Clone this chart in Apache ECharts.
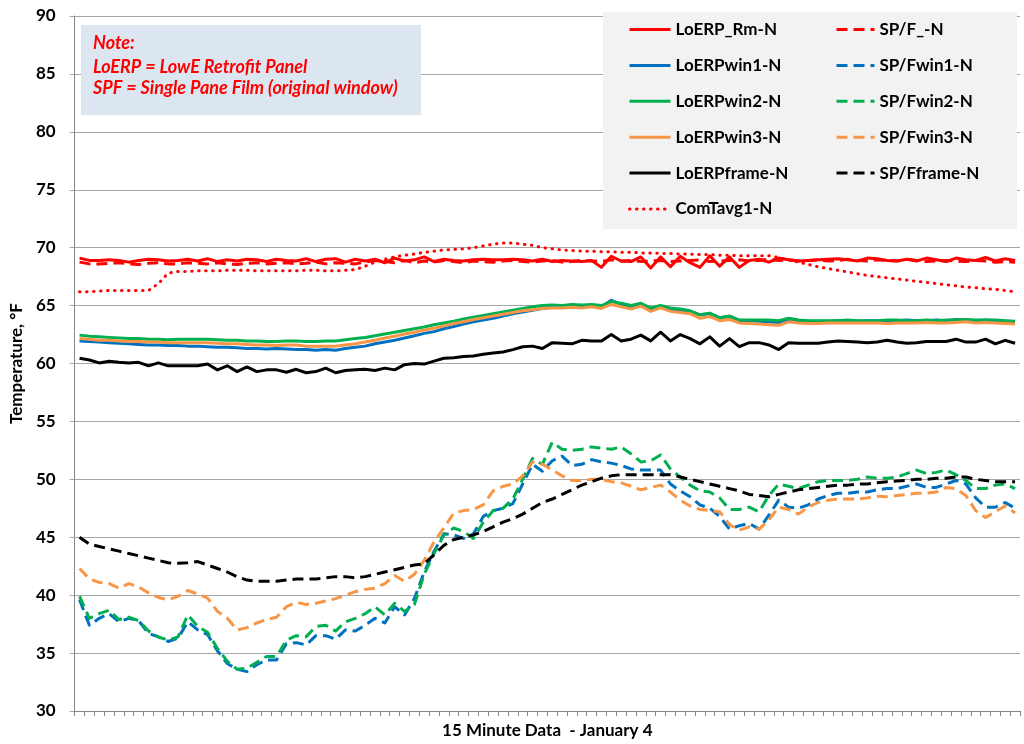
<!DOCTYPE html>
<html>
<head>
<meta charset="utf-8">
<script src="https://cdn.jsdelivr.net/npm/echarts@6/dist/echarts.min.js"></script>
<style>
  html, body { margin: 0; padding: 0; background: #ffffff; }
  #chart { width: 1024px; height: 744px; }
</style>
</head>
<body>
<div id="chart"></div>
<script>
// 15-minute readings for January 4 (96 intervals, 0:00 .. 23:45)
const categories = [];
for (let h = 0; h < 24; h++) {
  for (let m = 0; m < 60; m += 15) {
    categories.push(h + ':' + (m === 0 ? '00' : String(m)));
  }
}

const yTicks = { min: 30, max: 90, step: 5 };

// Room temperature, LowE retrofit panel side
const loerpRm = [69.1,68.9,68.9,68.95,68.9,68.75,68.9,69.0,68.95,68.85,
  68.9,69.0,68.85,69.05,68.8,68.95,68.85,69.0,68.95,68.8,
  69.0,68.9,68.85,69.05,68.8,69.0,69.05,68.75,69.0,68.85,
  69.0,68.7,69.1,68.85,68.95,69.2,68.8,69.0,68.9,68.85,
  68.95,69.0,68.95,68.95,69.0,68.95,68.85,69.0,68.8,68.9,
  68.85,68.8,68.9,68.3,69.25,68.85,68.8,69.2,68.25,69.2,
  68.35,69.25,68.7,68.3,69.3,68.4,69.2,68.3,68.9,69.0,
  68.75,69.1,68.95,68.85,68.9,68.95,69.0,69.05,68.95,68.85,
  69.1,69.05,68.9,68.85,69.0,68.85,69.1,68.95,68.8,69.1,
  68.95,68.9,69.15,68.85,69.05,68.9];

// Room temperature, single pane film side
const spfRm = [68.75,68.6,68.6,68.65,68.7,68.6,68.55,68.65,68.7,68.6,
  68.6,68.7,68.65,68.6,68.7,68.6,68.55,68.65,68.7,68.6,
  68.65,68.7,68.6,68.65,68.75,68.6,68.7,68.65,68.6,68.75,
  68.9,68.8,68.7,68.9,68.7,68.85,68.75,68.9,68.8,68.7,
  68.85,68.8,68.75,68.85,68.9,68.8,68.75,68.85,68.9,68.75,
  68.8,68.9,68.85,68.8,68.95,68.85,68.9,68.8,68.85,68.9,
  68.8,68.85,68.9,68.95,68.8,68.85,68.9,68.95,68.85,68.9,
  69.0,68.9,68.95,68.85,68.9,68.95,68.85,68.9,69.0,68.9,
  68.85,68.95,68.9,68.85,69.0,68.9,68.8,68.85,68.9,68.85,
  68.8,68.9,68.85,68.75,68.8,68.75];

const loerpWin1 = [61.95,61.9,61.85,61.8,61.75,61.7,61.65,61.6,61.6,61.55,
  61.55,61.5,61.5,61.45,61.4,61.4,61.35,61.3,61.3,61.25,
  61.3,61.25,61.2,61.2,61.15,61.2,61.15,61.3,61.4,61.5,
  61.7,61.85,62.0,62.2,62.4,62.6,62.75,63.0,63.2,63.4,
  63.6,63.75,63.9,64.1,64.3,64.45,64.6,64.75,64.85,64.9,
  65.0,64.95,65.0,64.9,65.45,65.1,64.9,65.15,64.7,64.95,
  64.7,64.6,64.5,64.2,64.3,63.95,64.05,63.7,63.7,63.65,
  63.6,63.55,63.75,63.7,63.65,63.65,63.65,63.7,63.7,63.65,
  63.7,63.7,63.65,63.7,63.75,63.7,63.7,63.75,63.7,63.8,
  63.75,63.7,63.75,63.7,63.65,63.6];

const loerpWin2 = [62.45,62.35,62.3,62.25,62.2,62.15,62.15,62.1,62.1,62.05,
  62.1,62.1,62.1,62.1,62.05,62.0,62.0,61.95,61.95,61.9,
  61.9,61.95,61.95,61.9,61.9,61.95,61.95,62.05,62.15,62.25,
  62.4,62.55,62.7,62.85,63.0,63.15,63.35,63.5,63.65,63.85,
  64.0,64.15,64.3,64.45,64.6,64.75,64.9,65.0,65.05,65.0,
  65.1,65.05,65.1,65.0,65.35,65.2,65.0,65.2,64.8,65.0,
  64.8,64.7,64.55,64.2,64.35,63.95,64.1,63.75,63.75,63.75,
  63.75,63.7,63.9,63.75,63.7,63.7,63.7,63.7,63.75,63.7,
  63.7,63.7,63.75,63.75,63.7,63.7,63.75,63.7,63.75,63.75,
  63.8,63.75,63.75,63.75,63.7,63.65];

const loerpWin3 = [62.15,62.1,62.0,62.0,61.95,61.9,61.9,61.85,61.85,61.8,
  61.8,61.8,61.8,61.8,61.75,61.7,61.7,61.65,61.6,61.6,
  61.55,61.6,61.6,61.5,61.5,61.5,61.5,61.6,61.7,61.85,
  62.0,62.2,62.35,62.55,62.7,62.9,63.05,63.25,63.45,63.6,
  63.8,63.95,64.1,64.25,64.4,64.55,64.65,64.75,64.8,64.8,
  64.85,64.8,64.9,64.75,65.1,64.9,64.7,64.95,64.5,64.8,
  64.5,64.4,64.3,63.9,64.05,63.7,63.8,63.5,63.45,63.4,
  63.35,63.3,63.6,63.5,63.45,63.45,63.5,63.5,63.5,63.5,
  63.5,63.5,63.45,63.5,63.5,63.5,63.55,63.5,63.5,63.55,
  63.6,63.5,63.55,63.5,63.45,63.4];

const loerpFrame = [60.45,60.3,60.05,60.2,60.1,60.05,60.1,59.8,60.05,59.8,
  59.8,59.8,59.8,59.95,59.45,59.8,59.3,59.7,59.3,59.45,
  59.45,59.25,59.5,59.2,59.3,59.6,59.2,59.4,59.45,59.5,
  59.4,59.6,59.45,59.9,60.0,59.95,60.2,60.45,60.5,60.6,
  60.65,60.8,60.9,61.0,61.2,61.45,61.5,61.3,61.8,61.75,
  61.7,62.0,61.95,61.95,62.5,61.95,62.1,62.45,61.95,62.7,
  61.95,62.5,62.15,61.7,62.3,61.5,62.15,61.45,61.8,61.8,
  61.6,61.2,61.8,61.75,61.75,61.75,61.85,61.95,61.9,61.85,
  61.8,61.85,62.0,61.85,61.75,61.8,61.9,61.9,61.9,62.1,
  61.85,61.85,62.1,61.7,62.0,61.75];

const spfWin1 = [39.6,37.4,38.0,38.4,37.7,38.0,37.8,36.7,36.4,36.0,
  36.3,37.7,37.0,36.6,35.2,34.1,33.6,33.4,34.0,34.4,
  34.4,35.8,35.9,35.7,36.5,36.5,36.2,37.0,36.9,37.4,
  38.0,37.6,39.0,38.3,39.7,42.0,43.8,45.3,45.2,44.9,
  45.3,46.8,47.3,47.5,47.9,49.6,51.3,50.7,51.6,52.0,
  51.2,51.3,51.7,51.5,51.4,51.2,50.9,50.8,50.8,50.8,
  49.6,49.0,48.5,47.8,47.5,46.8,45.7,46.0,46.2,45.7,
  46.9,48.2,47.6,47.5,47.8,48.3,48.6,48.8,48.8,48.9,
  48.9,49.1,49.2,49.2,49.4,49.6,49.3,49.3,49.6,49.9,
  49.6,48.4,47.6,47.6,48.0,47.5];

const spfWin2 = [39.9,38.0,38.4,38.7,37.9,38.1,37.8,36.9,36.4,36.1,
  36.4,38.3,37.3,36.8,35.4,34.3,33.6,33.7,34.2,34.7,
  34.7,36.1,36.5,36.4,37.3,37.4,36.9,37.7,38.0,38.4,
  39.0,38.3,39.3,38.6,39.2,41.8,43.6,45.2,45.8,45.5,
  44.9,46.3,47.3,47.5,48.3,50.0,51.8,51.3,53.2,52.6,
  52.5,52.6,52.8,52.7,52.6,52.8,52.2,51.5,51.6,52.1,
  50.9,50.2,49.5,49.0,48.9,48.4,47.4,47.4,47.6,47.2,
  48.6,49.6,49.4,49.2,49.5,49.8,49.9,49.9,49.9,50.0,
  50.2,50.1,50.1,50.2,50.5,50.8,50.5,50.6,50.8,50.4,
  49.9,49.2,49.2,49.5,49.6,49.2];

const spfWin3 = [42.3,41.4,41.1,41.0,40.6,41.0,40.7,40.2,39.8,39.6,
  39.9,40.4,40.1,39.75,38.6,38.0,37.0,37.2,37.6,37.9,
  38.1,39.0,39.4,39.2,39.3,39.5,39.7,40.0,40.3,40.5,
  40.6,41.0,41.7,41.2,41.8,43.0,44.6,45.8,47.1,47.3,
  47.4,47.8,49.0,49.4,49.6,50.3,51.5,51.3,50.8,50.3,
  49.9,49.9,50.0,50.0,49.8,49.7,49.4,49.1,49.3,49.5,
  48.9,48.2,47.7,47.4,47.3,47.2,46.1,45.6,45.9,45.7,
  46.5,47.6,47.4,47.0,47.6,48.0,48.2,48.3,48.3,48.3,
  48.4,48.55,48.5,48.6,48.7,48.8,48.8,48.9,49.3,49.2,
  48.6,47.3,46.7,47.2,47.7,47.1];

const spfFrame = [45.0,44.4,44.2,44.0,43.8,43.6,43.4,43.2,43.0,42.8,
  42.75,42.8,42.9,42.6,42.3,42.0,41.6,41.3,41.2,41.2,
  41.2,41.3,41.4,41.4,41.4,41.5,41.6,41.6,41.5,41.6,
  41.8,42.0,42.2,42.4,42.6,42.7,43.5,44.3,44.8,45.0,
  45.2,45.5,45.9,46.3,46.6,47.0,47.5,48.0,48.3,48.7,
  49.1,49.5,49.8,50.1,50.3,50.4,50.4,50.4,50.4,50.4,
  50.4,50.2,50.0,49.8,49.6,49.4,49.2,49.0,48.7,48.6,
  48.5,48.7,48.9,49.1,49.2,49.3,49.4,49.5,49.5,49.6,
  49.6,49.7,49.8,49.85,49.9,50.0,50.0,50.1,50.1,50.2,
  50.2,50.0,49.9,49.8,49.8,49.8];

// Common-area average temperature
const comTavg1 = [66.2,66.2,66.25,66.3,66.3,66.3,66.3,66.3,66.9,67.8,
  67.95,67.95,68.0,68.0,68.0,68.05,68.05,68.05,68.0,68.0,
  68.0,68.0,68.0,68.05,68.05,68.0,68.0,68.05,68.1,68.4,
  68.75,69.0,69.2,69.35,69.45,69.6,69.7,69.8,69.85,69.9,
  70.0,70.15,70.3,70.4,70.4,70.3,70.2,70.0,69.9,69.8,
  69.75,69.7,69.7,69.65,69.65,69.6,69.6,69.55,69.55,69.5,
  69.5,69.45,69.45,69.4,69.4,69.35,69.35,69.3,69.3,69.3,
  69.3,69.15,68.95,68.75,68.55,68.35,68.2,68.05,67.9,67.75,
  67.6,67.5,67.4,67.3,67.2,67.1,67.0,66.9,66.8,66.7,
  66.6,66.55,66.45,66.4,66.3,66.2];

const RED = '#ff0000', BLUE = '#0070c0', GREEN = '#00b050', ORANGE = '#f79646', BLACK = '#000000';
const FONT = 'Lato';

function line(name, data, color, type) {
  let lineType = 'solid';
  let cap = 'butt';
  if (type === 'dash') lineType = [11, 6];
  if (type === 'dot') { lineType = [0.5, 6.5]; cap = 'round'; }
  return {
    name: name,
    type: 'line',
    data: data,
    symbol: 'none',
    smooth: false,
    lineStyle: { color: color, width: 3, type: lineType, cap: cap, join: 'round' },
    itemStyle: { color: color },
    emphasis: { disabled: true }
  };
}

const series = [
  line('LoERP_Rm-N', loerpRm, RED, 'solid'),
  line('SP/F_-N', spfRm, RED, 'dash'),
  line('LoERPwin1-N', loerpWin1, BLUE, 'solid'),
  line('SP/Fwin1-N', spfWin1, BLUE, 'dash'),
  line('LoERPwin2-N', loerpWin2, GREEN, 'solid'),
  line('SP/Fwin2-N', spfWin2, GREEN, 'dash'),
  line('LoERPwin3-N', loerpWin3, ORANGE, 'solid'),
  line('SP/Fwin3-N', spfWin3, ORANGE, 'dash'),
  line('LoERPframe-N', loerpFrame, BLACK, 'solid'),
  line('SP/Fframe-N', spfFrame, BLACK, 'dash'),
  line('ComTavg1-N', comTavg1, RED, 'dot')
];

const legendText = { fontFamily: FONT, fontWeight: 'bold', fontSize: 17, color: '#000', lineHeight: 17 };
const legendCommon = {
  orient: 'vertical',
  top: 21,
  padding: 0,
  itemHeight: 17,
  itemGap: 18.9,
  textStyle: legendText,
  itemStyle: { opacity: 0 },
  lineStyle: { width: 3 },
  selectedMode: false,
  z: 10
};

const chart = echarts.init(document.getElementById('chart'), null, { renderer: 'canvas' });
chart.setOption({
  animation: false,
  backgroundColor: '#ffffff',
  grid: { left: 69, right: 4, top: 16, bottom: 31, containLabel: false },
  xAxis: {
    type: 'category',
    data: categories,
    boundaryGap: true,
    name: '15 Minute Data  - January 4',
    nameLocation: 'middle',
    nameGap: 11,
    nameTextStyle: { fontFamily: FONT, fontWeight: 'bold', fontSize: 17, color: '#000' },
    axisLine: { lineStyle: { color: '#868686', width: 1 } },
    axisTick: { show: true, interval: 0, length: 5, lineStyle: { color: '#868686' } },
    axisLabel: { show: false },
    splitLine: { show: false }
  },
  yAxis: {
    type: 'value',
    min: yTicks.min,
    max: yTicks.max,
    interval: yTicks.step,
    name: 'Temperature, °F',
    nameLocation: 'middle',
    nameGap: 43,
    nameRotate: 90,
    nameTextStyle: { fontFamily: FONT, fontWeight: 'bold', fontSize: 17, color: '#000' },
    axisLine: { show: true, lineStyle: { color: '#868686', width: 1 } },
    axisTick: { show: true, length: 5, lineStyle: { color: '#a6a6a6' } },
    axisLabel: { fontFamily: FONT, fontWeight: 'bold', fontSize: 17, color: '#000', margin: 19 },
    splitLine: { show: true, lineStyle: { color: '#a6a6a6', width: 1 } }
  },
  legend: [
    Object.assign({}, legendCommon, {
      left: 628,
      itemWidth: 41,
      data: ['LoERP_Rm-N', 'LoERPwin1-N', 'LoERPwin2-N', 'LoERPwin3-N', 'LoERPframe-N', 'ComTavg1-N']
    }),
    Object.assign({}, legendCommon, {
      left: 835,
      itemWidth: 38,
      data: ['SP/F_-N', 'SP/Fwin1-N', 'SP/Fwin2-N', 'SP/Fwin3-N', 'SP/Fframe-N']
    })
  ],
  graphic: [
    { type: 'rect', z: 3, shape: { x: 603, y: 12, width: 414, height: 217 }, style: { fill: '#f2f2f2' } },
    { type: 'rect', z: 3, shape: { x: 81, y: 25, width: 340, height: 90 }, style: { fill: '#dce6f1' } },
    { type: 'text', z: 4, left: 93, top: 34, style: { text: 'Note:', fill: RED, font: 'italic bold 18px Lato' } },
    { type: 'text', z: 4, left: 93, top: 58, style: { text: 'LoERP = LowE Retrofit Panel', fill: RED, font: 'italic bold 18px Lato' } },
    { type: 'text', z: 4, left: 93, top: 79, style: { text: 'SPF = Single Pane Film (original window)', fill: RED, font: 'italic bold 18px Lato' } }
  ],
  series: series
});
</script>
</body>
</html>
